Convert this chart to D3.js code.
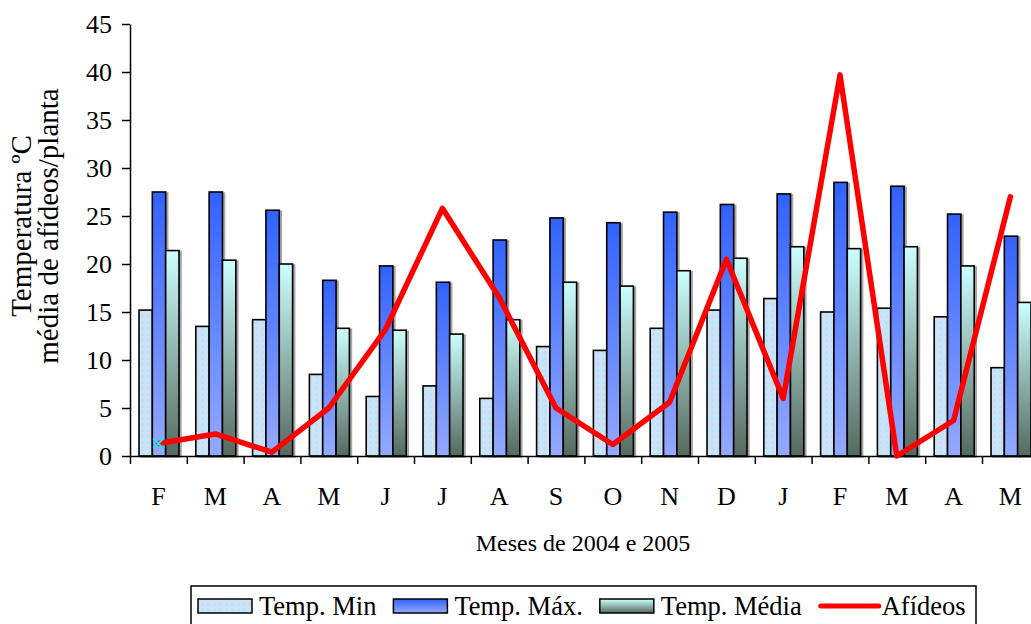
<!DOCTYPE html>
<html>
<head>
<meta charset="utf-8">
<script src="https://cdn.jsdelivr.net/npm/d3@7"></script>
<style>
    body { margin: 0; background: #fff; }
    svg { display: block; }
    text { font-family: "Liberation Serif", "Times New Roman", serif; fill: #000; }
    .tick-label { font-size: 26px; }
    .legend-text { font-size: 26.5px; }
</style>
</head>
<body>
<div id="chart"></div>
<script>

// data
const months = ['F', 'M', 'A', 'M', 'J', 'J', 'A', 'S', 'O', 'N', 'D', 'J', 'F', 'M', 'A', 'M'];
const tempMin = [15.2, 13.5, 14.2, 8.5, 6.2, 7.3, 6.0, 11.4, 11.0, 13.3, 15.2, 16.4, 15.0, 15.4, 14.5, 9.2];
const tempMax = [27.5, 27.5, 25.6, 18.3, 19.8, 18.1, 22.5, 24.8, 24.3, 25.4, 26.2, 27.3, 28.5, 28.1, 25.2, 22.9];
const tempMed = [21.4, 20.4, 20.0, 13.3, 13.1, 12.7, 14.2, 18.1, 17.7, 19.3, 20.6, 21.8, 21.6, 21.8, 19.8, 16.0];
const afideos = [1.3, 2.3, 0.4, 5.0, 13.2, 25.8, 16.5, 5.0, 1.2, 5.6, 20.5, 6.0, 39.7, 0.0, 3.7, 27.0];
const yTicks = [0, 5, 10, 15, 20, 25, 30, 35, 40, 45];

const seriesKeys = ['min', 'max', 'med'];
const seriesLabels = ['Temp. Min', 'Temp. Máx.', 'Temp. Média'];
const seriesValues = {min: tempMin, max: tempMax, med: tempMed};

const width = 1031, height = 624;
const margin = {top: 24, left: 130, bottom: 168};
const step = 56.8;

const svg = d3.select('#chart').append('svg')
    .attr('width', width)
    .attr('height', height);

const defs = svg.append('defs');

// textured pale blue for Temp. Min
const tex = defs.append('pattern')
    .attr('id', 'minTexture')
    .attr('patternUnits', 'userSpaceOnUse')
    .attr('width', 6).attr('height', 6);
tex.append('rect').attr('width', 6).attr('height', 6).attr('fill', '#c4e6fa');
tex.append('rect').attr('x', 0).attr('y', 0).attr('width', 3).attr('height', 3).attr('fill', '#d4def5');
tex.append('rect').attr('x', 3).attr('y', 3).attr('width', 3).attr('height', 3).attr('fill', '#bce2f8');
tex.append('rect').attr('x', 4).attr('y', 0).attr('width', 2).attr('height', 2).attr('fill', '#dcd9f0');

function gradient(id, top, bottom) {
    const g = defs.append('linearGradient')
        .attr('id', id)
        .attr('x1', 0).attr('y1', 0).attr('x2', 0).attr('y2', 1);
    g.append('stop').attr('offset', '0%').attr('stop-color', top);
    g.append('stop').attr('offset', '100%').attr('stop-color', bottom);
}
gradient('maxGrad', '#3162ff', '#95aaff');
gradient('medGrad', '#ccffff', '#55695f');

const fills = {min: 'url(#minTexture)', max: 'url(#maxGrad)', med: 'url(#medGrad)'};

const shadow = defs.append('filter').attr('id', 'shadow')
    .attr('x', '-20%').attr('y', '-5%').attr('width', '150%').attr('height', '115%');
shadow.append('feDropShadow')
    .attr('dx', 2).attr('dy', 1).attr('stdDeviation', 0.6)
    .attr('flood-color', '#000').attr('flood-opacity', 0.35);

// scales
const x = d3.scaleBand()
    .domain(d3.range(months.length))
    .range([margin.left, margin.left + step * months.length]);

const xSub = d3.scaleBand()
    .domain(seriesKeys)
    .range([9, 49]);

const y = d3.scaleLinear()
    .domain([0, 45])
    .range([height - margin.bottom, margin.top]);

// bars
seriesKeys.forEach(key => {
    svg.append('g').selectAll('rect')
        .data(seriesValues[key])
        .enter()
        .append('rect')
        .attr('x', (d, i) => x(i) + xSub(key))
        .attr('y', d => y(d))
        .attr('width', xSub.bandwidth())
        .attr('height', d => y(0) - y(d))
        .attr('fill', fills[key])
        .attr('stroke', '#000')
        .attr('stroke-width', 1.6)
        .attr('filter', 'url(#shadow)');
});

// y axis
const yAxis = svg.append('g')
    .attr('transform', `translate(${margin.left},0)`)
    .call(d3.axisLeft(y).tickValues(yTicks).tickSize(8).tickPadding(10).tickSizeOuter(0));
yAxis.attr('font-family', null).attr('font-size', null);
yAxis.select('.domain').attr('stroke', '#000').attr('stroke-width', 1.5);
yAxis.selectAll('.tick line').attr('stroke-width', 1.5);
yAxis.selectAll('.tick text')
    .attr('class', 'tick-label')
    .attr('dy', '0.34em');

// x axis: ticks on category boundaries, labels centred
const xEdge = d3.scaleLinear().domain([0, months.length]).range(x.range());
const xAxis = svg.append('g')
    .attr('transform', `translate(0,${y(0)})`)
    .call(d3.axisBottom(xEdge).tickValues(d3.range(months.length + 1)).tickSize(8).tickSizeOuter(0).tickFormat(''));
xAxis.attr('font-family', null).attr('font-size', null);
xAxis.select('.domain').attr('stroke', '#000').attr('stroke-width', 1.5);
xAxis.selectAll('.tick line').attr('stroke-width', 1.5);

svg.append('g').selectAll('text')
    .data(months)
    .enter()
    .append('text')
    .attr('class', 'tick-label')
    .attr('x', (d, i) => x(i) + x.bandwidth() / 2)
    .attr('y', 505)
    .attr('text-anchor', 'middle')
    .text(d => d);

// aphid line
const line = d3.line()
    .x((d, i) => x(i) + x.bandwidth() / 2)
    .y(d => y(d));

svg.append('path')
    .datum(afideos)
    .attr('d', line)
    .attr('fill', 'none')
    .attr('stroke', '#ff0000')
    .attr('stroke-width', 5.5)
    .attr('stroke-linejoin', 'round')
    .attr('stroke-linecap', 'round');

// the single cyan marker on the first point
const mx = x(0) + x.bandwidth() / 2, my = y(afideos[0]);
svg.append('path')
    .attr('d', `M${mx - 5},${my - 5}L${mx + 5},${my + 5}M${mx - 5},${my + 5}L${mx + 5},${my - 5}`)
    .attr('stroke', '#19e6f0')
    .attr('stroke-width', 2);

// axis titles
svg.append('text')
    .attr('x', 583)
    .attr('y', 551)
    .attr('text-anchor', 'middle')
    .style('font-size', '24px')
    .text('Meses de 2004 e 2005');

const yTitle = svg.append('text')
    .attr('transform', 'translate(0,226) rotate(-90)')
    .attr('text-anchor', 'middle')
    .style('font-size', '29px');
yTitle.append('tspan').attr('x', 0).attr('y', 31).text('Temperatura ºC');
yTitle.append('tspan').attr('x', 0).attr('y', 58).text('média de afídeos/planta');

// legend
const legend = svg.append('g').attr('class', 'legend');
legend.append('rect')
    .attr('x', 191).attr('y', 586)
    .attr('width', 785).attr('height', 60)
    .attr('fill', '#fff')
    .attr('stroke', '#000')
    .attr('stroke-width', 1.5);

let lx = 198;
const ly = 606;
seriesKeys.forEach((key, i) => {
    legend.append('rect')
        .attr('x', lx).attr('y', ly - 7)
        .attr('width', 54).attr('height', 14)
        .attr('fill', fills[key])
        .attr('stroke', '#000')
        .attr('stroke-width', 1.5);
    const t = legend.append('text')
        .attr('class', 'legend-text')
        .attr('x', lx + 61)
        .attr('y', ly + 9)
        .text(seriesLabels[i]);
    lx += 61 + t.node().getComputedTextLength() + 17;
});
legend.append('line')
    .attr('x1', lx + 2).attr('x2', lx + 60)
    .attr('y1', ly).attr('y2', ly)
    .attr('stroke', '#ff0000')
    .attr('stroke-width', 5)
    .attr('stroke-linecap', 'round');
legend.append('text')
    .attr('class', 'legend-text')
    .attr('x', lx + 63)
    .attr('y', ly + 9)
    .text('Afídeos');

</script>
</body>
</html>
